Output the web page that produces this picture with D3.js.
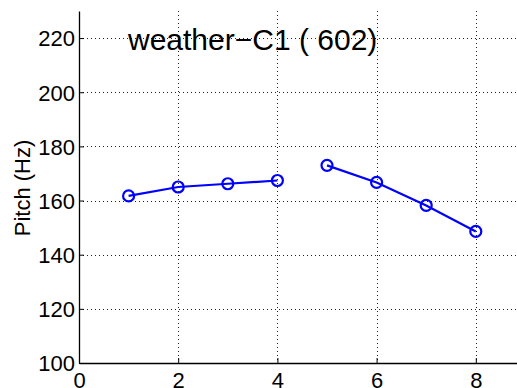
<!DOCTYPE html>
<html>
<head>
<meta charset="utf-8">
<script src="https://cdn.jsdelivr.net/npm/d3@7"></script>
<style>
  html, body { margin: 0; padding: 0; background: #fff; }
  svg { display: block; font-family: "Liberation Sans", Arial, Helvetica, sans-serif; }
</style>
</head>
<body>
<svg id="chart" width="517" height="388"></svg>
<script>
// Pitch contour, two voiced segments
const segmentA_x = [1, 2, 3, 4];
const segmentA_y = [161.7, 165.0, 166.2, 167.4];
const segmentB_x = [5, 6, 7, 8];
const segmentB_y = [173.0, 166.7, 158.2, 148.6];
const xTicks = [0, 2, 4, 6, 8];
const yTicks = [100, 120, 140, 160, 180, 200, 220];
const titleText = "weather\u2212C1 ( 602)";
const yLabelText = "Pitch (Hz)";

const svg = d3.select("#chart");
const plotLeft = 79, plotBottom = 363, plotTop = 11;

const x = d3.scaleLinear().domain([0, 9]).range([plotLeft, plotLeft + 9 * 49.6]);
const y = d3.scaleLinear().domain([100, 230]).range([plotBottom, plotTop]);

// grid
const grid = svg.append("g").attr("stroke", "#222").attr("stroke-width", 1)
  .attr("stroke-dasharray", "1,3");
grid.selectAll(".gx").data(xTicks.filter(d => d > 0)).join("line")
  .attr("x1", d => Math.round(x(d)) + 0.5).attr("x2", d => Math.round(x(d)) + 0.5)
  .attr("y1", y(230)).attr("y2", plotBottom);
grid.selectAll(".gy").data(yTicks.filter(d => d > 100)).join("line")
  .attr("y1", d => Math.round(y(d)) + 0.5).attr("y2", d => Math.round(y(d)) + 0.5)
  .attr("x1", plotLeft).attr("x2", 517);

// axes
const xAxis = d3.axisBottom(x).tickValues(xTicks).tickSizeInner(-5).tickSizeOuter(0).tickPadding(9);
const yAxis = d3.axisLeft(y).tickValues(yTicks).tickSizeInner(-5).tickSizeOuter(0).tickPadding(4);

const gx = svg.append("g").attr("transform", `translate(0,${plotBottom})`).call(xAxis);
const gy = svg.append("g").attr("transform", `translate(${plotLeft},0)`).call(yAxis);
[gx, gy].forEach(g => {
  g.select(".domain").attr("stroke", "#000").attr("stroke-width", 1.3);
  g.selectAll(".tick line").attr("stroke", "#000");
  g.selectAll(".tick text").attr("fill", "#000").attr("font-size", 22)
    .attr("font-family", "Liberation Sans, Arial, sans-serif");
});
gy.selectAll(".tick text").attr("dy", "0.36em");
gx.selectAll(".tick text").attr("dy", "0.72em");

// title
svg.append("text").attr("x", 128).attr("y", 50)
  .attr("font-size", 30).attr("fill", "#000").text(titleText);

// y label
svg.append("text").attr("transform", "translate(30,188) rotate(-90)")
  .attr("text-anchor", "middle").attr("font-size", 22).attr("fill", "#000").text(yLabelText);

// series
const line = d3.line().x(d => x(d[0])).y(d => y(d[1]));
[[segmentA_x, segmentA_y], [segmentB_x, segmentB_y]].forEach(([xs, ys]) => {
  const pts = xs.map((v, i) => [v, ys[i]]);
  svg.append("path").datum(pts).attr("d", line)
    .attr("fill", "none").attr("stroke", "#0000ff").attr("stroke-width", 2.2);
  svg.selectAll(null).data(pts).join("circle")
    .attr("cx", d => x(d[0])).attr("cy", d => y(d[1])).attr("r", 5.5)
    .attr("fill", "none").attr("stroke", "#0000ff").attr("stroke-width", 2.2);
});
</script>
</body>
</html>
